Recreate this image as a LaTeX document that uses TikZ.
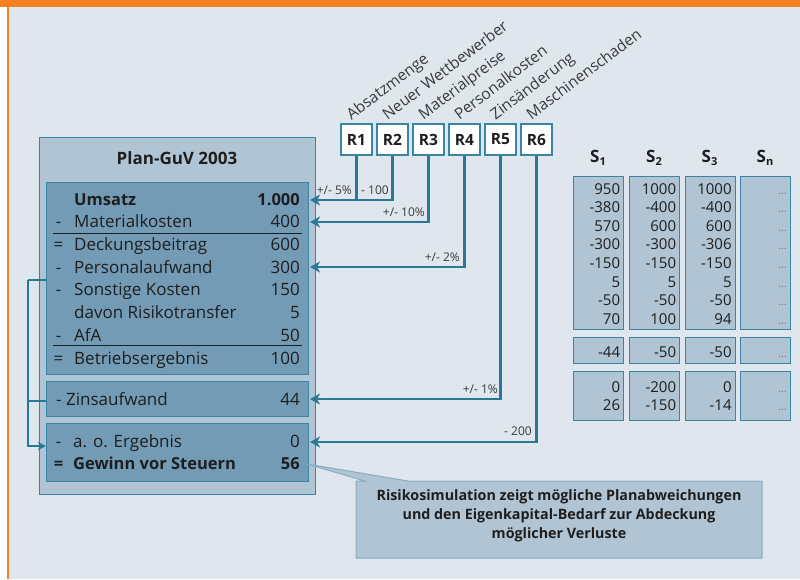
\documentclass[tikz,border=0pt]{standalone}
\usepackage{fontspec}
\setmainfont{Open Sans}
\usetikzlibrary{arrows.meta,calc}
\definecolor{bg}{HTML}{DFE6ED}
\definecolor{orangebar}{HTML}{F58220}
\definecolor{outerfill}{HTML}{B1C4D3}
\definecolor{tealb}{HTML}{3A85A2}
\definecolor{innerfill}{HTML}{739BB6}
\definecolor{arrowc}{HTML}{2A7994}
\definecolor{txt}{HTML}{1E1E1E}
\definecolor{lbl}{HTML}{3A3A3A}
\definecolor{calloutborder}{HTML}{86AEC6}
\definecolor{dots}{HTML}{7A7A7A}
\tikzset{
  outerbox/.style={draw=tealb, fill=outerfill, line width=1pt, anchor=north west, inner sep=0},
  innerbox/.style={draw=tealb, fill=innerfill, line width=1.3pt, anchor=north west, inner sep=0},
  sbox/.style={draw=tealb, fill=outerfill, line width=1.3pt, anchor=north west, inner sep=0, minimum width=50pt},
  rbox/.style={draw=tealb, fill=white, line width=1.3pt, minimum width=31pt, minimum height=31pt, inner sep=0, font=\fontsize{15.5}{17}\selectfont\bfseries, text=txt},
  rowtxt/.style={anchor=base west, inner sep=0, font=\fontsize{17}{19}\selectfont, text=txt},
  rowval/.style={anchor=base east, inner sep=0, font=\fontsize{17}{19}\selectfont, text=txt},
  rowpre/.style={anchor=base, inner sep=0, font=\fontsize{17}{19}\selectfont, text=txt},
  rowbold/.style={font=\fontsize{16.5}{19}\selectfont\bfseries},
  risk/.style={anchor=base west, inner sep=0, rotate=37, font=\fontsize{15.5}{18}\selectfont, text=lbl},
  pct/.style={anchor=base east, inner sep=0, font=\fontsize{12}{14}\selectfont, text=lbl},
  snum/.style={anchor=base east, inner sep=0, font=\fontsize{15}{17}\selectfont, text=txt},
  sdots/.style={anchor=base east, inner sep=0, font=\fontsize{11}{13}\selectfont, text=dots},
  shead/.style={anchor=base, inner sep=0, font=\fontsize{17}{20}\selectfont\bfseries, text=txt},
  conn/.style={draw=arrowc, line width=2.6pt, -{Stealth[length=10pt,width=11pt,inset=3pt]}},
  thin/.style={draw=arrowc, line width=1.8pt},
  thinarrow/.style={draw=arrowc, line width=1.8pt, -{Stealth[length=8pt,width=8pt,inset=2pt]}},
}
\begin{document}
\begin{tikzpicture}[x=1pt,y=-1pt]
\useasboundingbox (0,0) rectangle (800,579);
% background and frame
\fill[white] (0,0) rectangle (800,579);
\fill[bg] (9,7) rectangle (800,579);
\fill[orangebar] (0,0) rectangle (800,7);
\fill[orangebar] (7,0) rectangle (9,579);

% Plan-GuV boxes
\node (outer) [outerbox, minimum width=276pt, minimum height=357pt] at (39,137) {};
\node (title) [anchor=base, inner sep=0, font=\fontsize{17}{20}\selectfont\bfseries, text=txt] at (177,164) {Plan-GuV 2003};
\node (box1) [innerbox, minimum width=262pt, minimum height=192pt] at (46,182) {};
\node (box2) [innerbox, minimum width=262pt, minimum height=35pt] at (46,381) {};
\node (box3) [innerbox, minimum width=262pt, minimum height=58pt] at (46,423) {};

% rows of box 1
\node (l1) [rowtxt, rowbold] at (74,205) {Umsatz};
\node (v1) [rowval, rowbold] at (300,205) {1.000};
\node (p2) [rowpre] at (58.5,227.5) {-};
\node (l2) [rowtxt] at (74,227.5) {Materialkosten};
\node (v2) [rowval] at (300,227.5) {400};
\node (p3) [rowpre] at (58.5,250) {=};
\node (l3) [rowtxt] at (74,250) {Deckungsbeitrag};
\node (v3) [rowval] at (300,250) {600};
\node (p4) [rowpre] at (58.5,273) {-};
\node (l4) [rowtxt] at (74,273) {Personalaufwand};
\node (v4) [rowval] at (300,273) {300};
\node (p5) [rowpre] at (58.5,295.5) {-};
\node (l5) [rowtxt] at (74,295.5) {Sonstige Kosten};
\node (v5) [rowval] at (300,295.5) {150};
\node (l6) [rowtxt] at (74,318) {davon Risikotransfer};
\node (v6) [rowval] at (300,318) {5};
\node (p7) [rowpre] at (58.5,341) {-};
\node (l7) [rowtxt] at (74,341) {AfA};
\node (v7) [rowval] at (300,341) {50};
\node (p8) [rowpre] at (58.5,364) {=};
\node (l8) [rowtxt] at (74,364) {Betriebsergebnis};
\node (v8) [rowval] at (300,364) {100};
\draw[txt, line width=1pt] (53,233) -- (302,233);
\draw[txt, line width=1pt] (53,345) -- (302,345);

% box 2
\node (l9) [rowtxt] at (56,405) {- Zinsaufwand};
\node (v9) [rowval] at (300,405) {44};
% box 3
\node (p10) [rowpre] at (58.5,447) {-};
\node (l10) [rowtxt] at (73,447) {a. o. Ergebnis};
\node (v10) [rowval] at (300,447) {0};
\node (p11) [rowpre, rowbold] at (58.5,469) {=};
\node (l11) [rowtxt, rowbold] at (73,469) {Gewinn vor Steuern};
\node (v11) [rowval, rowbold] at (300,469) {56};

% risk boxes
\foreach \i/\x/\name in {1/356.5/Absatzmenge, 2/392.5/Neuer Wettbewerber, 3/428.5/Materialpreise, 4/464.5/Personalkosten, 5/500.5/Zinsänderung, 6/536.5/Maschinenschaden}{
  \node (R\i) [rbox] at (\x,139.5) {R\i};
  \node (N\i) [risk] at ($(R\i.north west)+(11,-3)$) {\name};
}

% connector targets
\coordinate (t1) at (310,200);
\coordinate (t3) at (310,222);
\coordinate (t4) at (310,267);
\coordinate (t5) at (310,399);
\coordinate (t6) at (310,442);

\draw[conn] (R2.south) |- (t1);
\draw[draw=arrowc, line width=2.6pt] (R1.south) -- (R1.south |- t1);
\draw[conn] (R3.south) |- (t3);
\draw[conn] (R4.south) |- (t4);
\draw[conn] (R5.south) |- (t5);
\draw[conn] (R6.south) |- (t6);

\node (c1) [pct] at (352,194) {+/- 5\%};
\node (c2) [pct] at (389,194) {- 100};
\node (c3) [pct] at (425,216) {+/- 10\%};
\node (c4) [pct] at (460,261) {+/- 2\%};
\node (c5) [pct] at (498,393) {+/- 1\%};
\node (c6) [pct] at (532,435) {- 200};

% left connector
\coordinate (k1) at (28,280);
\coordinate (k2) at (28,401);
\coordinate (k3) at (28,446);
\draw[thin] (box1.west |- k1) -- (k1);
\draw[thin] (box2.west |- k2) -- (k2);
\draw[thinarrow] (k1) -- (k3) -- (box3.west |- k3);

% scenario columns
\foreach \c/\x/\lab in {1/573/1, 2/629/2, 3/684.5/3, 4/740/n}{
  \node (sa\c) [sbox, minimum height=153pt] at (\x,176) {};
  \node (sb\c) [sbox, minimum height=26pt] at (\x,337) {};
  \node (sc\c) [sbox, minimum height=49pt] at (\x,371) {};
  \node (sh\c) [shead] at (\x+25,162) {S\raisebox{-0.35ex}{\fontsize{11}{12}\selectfont\lab}};
}
\foreach \c/\vals/\vb/\vcA/\vcB in {1/{950,-380,570,-300,-150,5,-50,70}/-44/0/26, 2/{1000,-400,600,-300,-150,5,-50,100}/-50/-200/-150, 3/{1000,-400,600,-306,-150,5,-50,94}/-50/0/-14}{
  \foreach \v [count=\r] in \vals {
    \node (n\c r\r) [snum] at ($(sa\c.north east)+(-4,{18+18.6*(\r-1)})$) {\v};
  }
  \node (n\c b) [snum] at ($(sb\c.north east)+(-4,20)$) {\vb};
  \node (n\c c) [snum] at ($(sc\c.north east)+(-4,21)$) {\vcA};
  \node (n\c d) [snum] at ($(sc\c.north east)+(-4,39)$) {\vcB};
}
\foreach \r in {1,...,8}{
  \node (d\r) [sdots] at ($(sa4.north east)+(-4,{18+18.6*(\r-1)})$) {\dots};
}
\node (db) [sdots] at ($(sb4.north east)+(-4,20)$) {\dots};
\node (dc) [sdots] at ($(sc4.north east)+(-4,21)$) {\dots};
\node (dd) [sdots] at ($(sc4.north east)+(-4,39)$) {\dots};

% callout
\filldraw[fill=outerfill, draw=calloutborder, line width=1pt]
  (356,481) -- (365,481) -- (307,464) -- (408,481) -- (762,481) -- (762,558) -- (356,558) -- cycle;
\node (callout) [align=center, inner sep=0, font=\fontsize{14.3}{19}\selectfont\bfseries, text=txt, anchor=north] at (559,489.5)
  {Risikosimulation zeigt mögliche Planabweichungen\\und den Eigenkapital-Bedarf zur Abdeckung\\möglicher Verluste};
\end{tikzpicture}
\end{document}
